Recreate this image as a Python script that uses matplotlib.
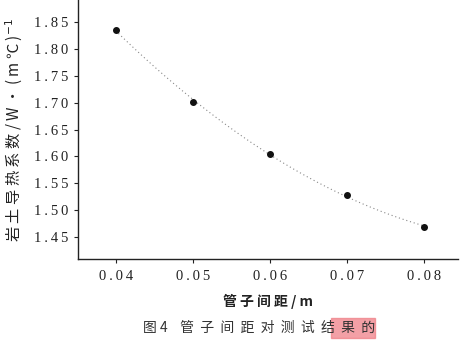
import numpy as np
import matplotlib.pyplot as plt
from matplotlib.patches import Rectangle

# data
spacing = [0.04, 0.05, 0.06, 0.07, 0.08]
conductivity = [1.836, 1.702, 1.604, 1.528, 1.469]
x_ticks = [0.04, 0.05, 0.06, 0.07, 0.08]
y_ticks = [1.45, 1.50, 1.55, 1.60, 1.65, 1.70, 1.75, 1.80, 1.85]

CJK = ["Noto Sans CJK SC", "DejaVu Sans"]
NUM = "Liberation Serif"
INK = "#222222"


def spaced(v):
    # the scanned labels are slightly letter-spaced
    return "\u2009".join(f"{v:.2f}")


fig = plt.figure(figsize=(4.69, 3.46), dpi=100)
ax = fig.add_axes([0.166, 0.251, 0.811, 0.749])

# trend line (quadratic fit of the points)
coef = np.polyfit(spacing, conductivity, 2)
xf = np.linspace(spacing[0], spacing[-1], 100)
ax.plot(xf, np.polyval(coef, xf), linestyle=(0, (1, 2.5)), color="#888888", linewidth=0.8)

ax.plot(spacing, conductivity, "o", color="#111111", markersize=4)

ax.set_xlim(0.0351, 0.0844)
ax.set_ylim(1.409, 1.891)
ax.set_xticks(x_ticks)
ax.set_xticklabels([spaced(v) for v in x_ticks], fontfamily=NUM, fontsize=10.5, color=INK)
ax.set_yticks(y_ticks)
ax.set_yticklabels([spaced(v) for v in y_ticks], fontfamily=NUM, fontsize=10.5, color=INK)
ax.tick_params(length=3, width=0.8, color=INK, pad=5)
ax.tick_params(axis="y", pad=4)

for s in ["top", "right"]:
    ax.spines[s].set_visible(False)
for s in ["left", "bottom"]:
    ax.spines[s].set_linewidth(1.0)
    ax.spines[s].set_color(INK)

ax.set_ylabel("岩 土 导 热 系 数 / W · ( m ℃ )$^{-1}$", family=CJK, fontsize=11,
              color=INK, labelpad=6)
ax.set_xlabel("管 子 间 距 / m", family=CJK, fontsize=10, fontweight="bold",
              color=INK, labelpad=8)

# pink highlight over the end of the caption
fig.patches.append(Rectangle((331 / 469, 1 - 338 / 346), 44 / 469, 20 / 346,
                             transform=fig.transFigure, color="#ee7880",
                             alpha=0.7, zorder=0))
fig.text(0.553, 1 - 328 / 346, "图 4    管  子  间  距  对  测  试  结  果  的", family=CJK,
         fontsize=10, color="#333333", ha="center", va="center")

fig.savefig("out.png", dpi=100)
